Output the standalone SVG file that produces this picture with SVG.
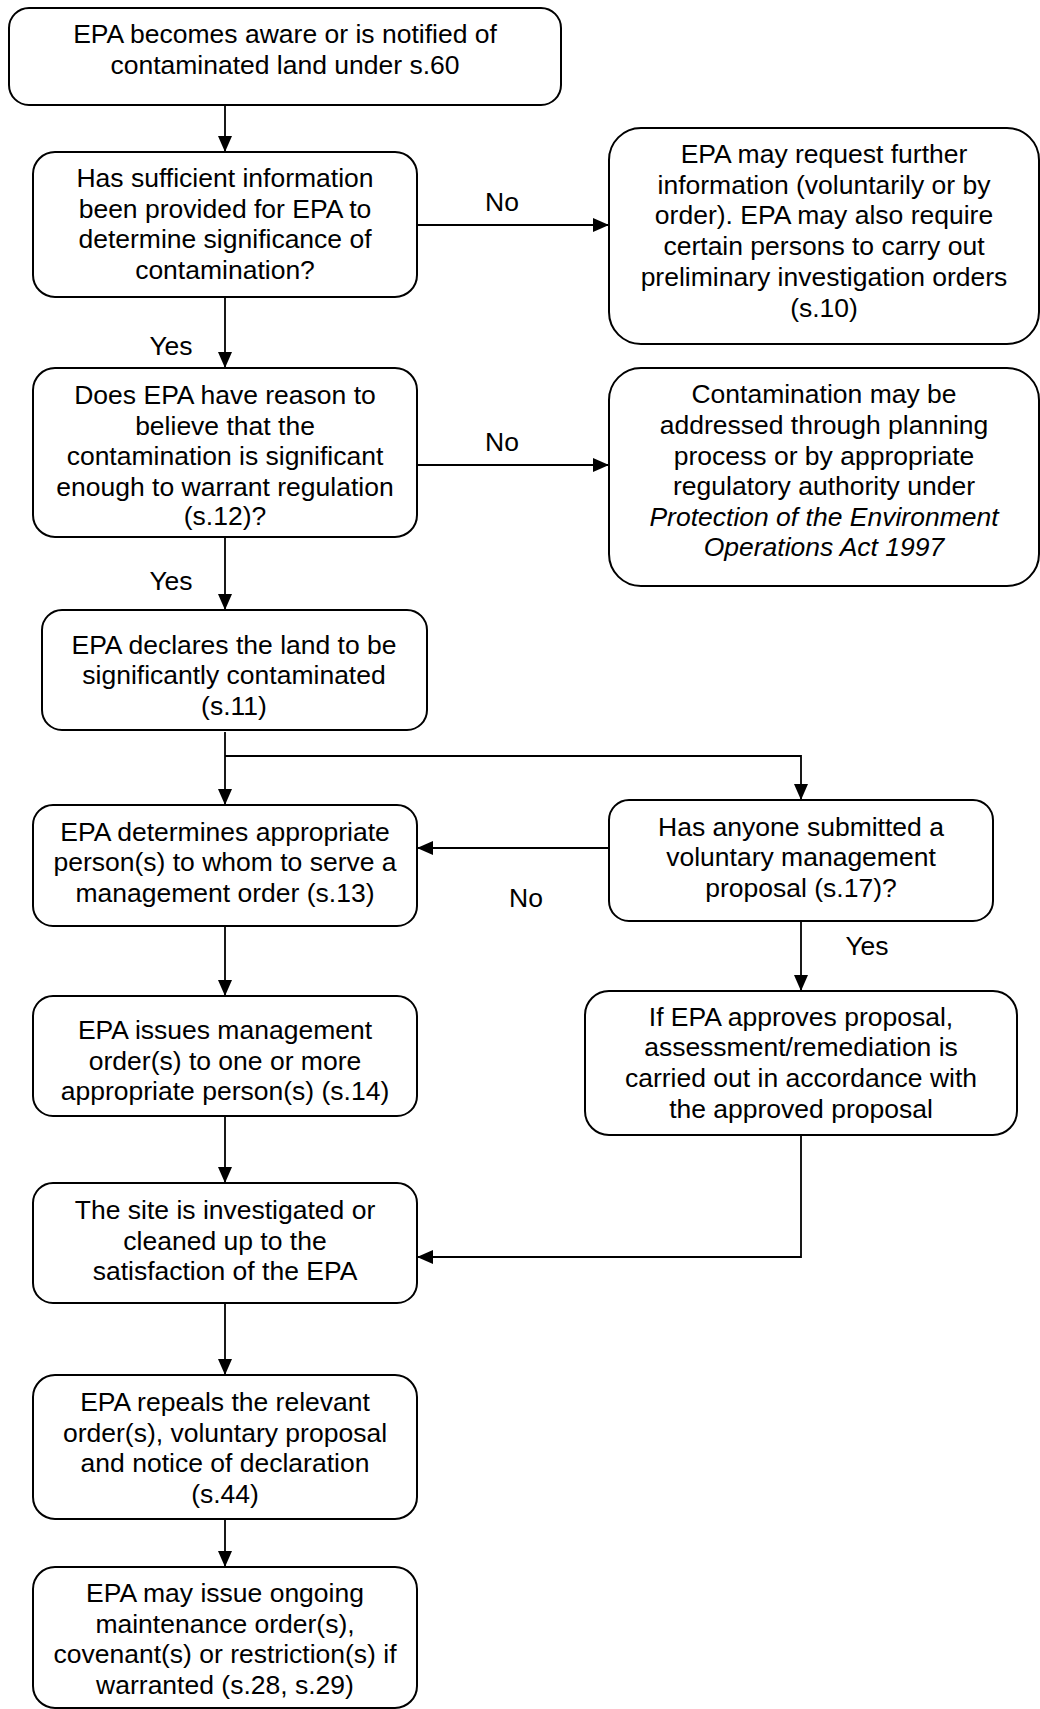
<svg xmlns="http://www.w3.org/2000/svg" width="1040" height="1709" viewBox="0 0 1040 1709">
<style>
.box{fill:#fff;stroke:#000;stroke-width:2}
.t{font-family:"Liberation Sans",Arial,sans-serif;font-size:26.5px;fill:#000;text-anchor:middle}
.c{fill:none;stroke:#000;stroke-width:1.8}
.i{font-style:italic}
</style>
<defs>
<marker id="ah" markerUnits="userSpaceOnUse" markerWidth="16" markerHeight="14" refX="16" refY="7" orient="auto">
<path d="M0,0 L16,7 L0,14 z" fill="#000"/>
</marker>
</defs>
<rect width="1040" height="1709" fill="#fff"/>
<g id="connectors">
<path class="c" d="M225,105 V152" marker-end="url(#ah)"/>
<path class="c" d="M225,297 V368" marker-end="url(#ah)"/>
<path class="c" d="M417,225 H609" marker-end="url(#ah)"/>
<path class="c" d="M417,465 H609" marker-end="url(#ah)"/>
<path class="c" d="M225,537 V610" marker-end="url(#ah)"/>
<path class="c" d="M225,732 V805" marker-end="url(#ah)"/>
<path class="c" d="M225,756 H801 V800" marker-end="url(#ah)"/>
<path class="c" d="M609,848 H417" marker-end="url(#ah)"/>
<path class="c" d="M801,921 V991" marker-end="url(#ah)"/>
<path class="c" d="M225,926 V996" marker-end="url(#ah)"/>
<path class="c" d="M225,1116 V1183" marker-end="url(#ah)"/>
<path class="c" d="M801,1135 V1257 H417" marker-end="url(#ah)"/>
<path class="c" d="M225,1303 V1375" marker-end="url(#ah)"/>
<path class="c" d="M225,1519 V1567" marker-end="url(#ah)"/>
<text class="t" x="502" y="211">No</text>
<text class="t" x="502" y="450.5">No</text>
<text class="t" x="171" y="354.5">Yes</text>
<text class="t" x="171" y="590">Yes</text>
<text class="t" x="526" y="907">No</text>
<text class="t" x="867" y="955">Yes</text>
</g>
<g id="n1">
<rect class="box" x="9" y="8" width="552" height="97" rx="20"/>
<text class="t" x="285" y="43">EPA becomes aware or is notified of</text>
<text class="t" x="285" y="73.5">contaminated land under s.60</text>
</g>
<g id="n2">
<rect class="box" x="33" y="152" width="384" height="145" rx="22"/>
<text class="t" x="225" y="187">Has sufficient information</text>
<text class="t" x="225" y="217.5">been provided for EPA to</text>
<text class="t" x="225" y="248">determine significance of</text>
<text class="t" x="225" y="278.5">contamination?</text>
</g>
<g id="n3">
<rect class="box" x="609" y="128" width="430" height="216" rx="32"/>
<text class="t" x="824" y="163">EPA may request further</text>
<text class="t" x="824" y="193.5">information (voluntarily or by</text>
<text class="t" x="824" y="224">order). EPA may also require</text>
<text class="t" x="824" y="254.5">certain persons to carry out</text>
<text class="t" x="824" y="285.5">preliminary investigation orders</text>
<text class="t" x="824" y="316.5">(s.10)</text>
</g>
<g id="n4">
<rect class="box" x="33" y="368" width="384" height="169" rx="22"/>
<text class="t" x="225" y="404">Does EPA have reason to</text>
<text class="t" x="225" y="434.5">believe that the</text>
<text class="t" x="225" y="465">contamination is significant</text>
<text class="t" x="225" y="495.5">enough to warrant regulation</text>
<text class="t" x="225" y="525">(s.12)?</text>
</g>
<g id="n5">
<rect class="box" x="609" y="368" width="430" height="218" rx="32"/>
<text class="t" x="824" y="403">Contamination may be</text>
<text class="t" x="824" y="434">addressed through planning</text>
<text class="t" x="824" y="464.5">process or by appropriate</text>
<text class="t" x="824" y="495">regulatory authority under</text>
<text class="t i" x="824" y="525.5">Protection of the Environment</text>
<text class="t i" x="824" y="556">Operations Act 1997</text>
</g>
<g id="n6">
<rect class="box" x="42" y="610" width="385" height="120" rx="20"/>
<text class="t" x="234" y="653.5">EPA declares the land to be</text>
<text class="t" x="234" y="684">significantly contaminated</text>
<text class="t" x="234" y="714.5">(s.11)</text>
</g>
<g id="n7">
<rect class="box" x="33" y="805" width="384" height="121" rx="20"/>
<text class="t" x="225" y="840.5">EPA determines appropriate</text>
<text class="t" x="225" y="871">person(s) to whom to serve a</text>
<text class="t" x="225" y="901.5">management order (s.13)</text>
</g>
<g id="n8">
<rect class="box" x="609" y="800" width="384" height="121" rx="20"/>
<text class="t" x="801" y="835.5">Has anyone submitted a</text>
<text class="t" x="801" y="866">voluntary management</text>
<text class="t" x="801" y="896.5">proposal (s.17)?</text>
</g>
<g id="n9">
<rect class="box" x="33" y="996" width="384" height="120" rx="20"/>
<text class="t" x="225" y="1039">EPA issues management</text>
<text class="t" x="225" y="1069.5">order(s) to one or more</text>
<text class="t" x="225" y="1100">appropriate person(s) (s.14)</text>
</g>
<g id="n10">
<rect class="box" x="585" y="991" width="432" height="144" rx="24"/>
<text class="t" x="801" y="1025.5">If EPA approves proposal,</text>
<text class="t" x="801" y="1056">assessment/remediation is</text>
<text class="t" x="801" y="1086.5">carried out in accordance with</text>
<text class="t" x="801" y="1117.5">the approved proposal</text>
</g>
<g id="n11">
<rect class="box" x="33" y="1183" width="384" height="120" rx="20"/>
<text class="t" x="225" y="1219">The site is investigated or</text>
<text class="t" x="225" y="1249.5">cleaned up to the</text>
<text class="t" x="225" y="1280">satisfaction of the EPA</text>
</g>
<g id="n12">
<rect class="box" x="33" y="1375" width="384" height="144" rx="22"/>
<text class="t" x="225" y="1411">EPA repeals the relevant</text>
<text class="t" x="225" y="1441.5">order(s), voluntary proposal</text>
<text class="t" x="225" y="1472">and notice of declaration</text>
<text class="t" x="225" y="1502.5">(s.44)</text>
</g>
<g id="n13">
<rect class="box" x="33" y="1567" width="384" height="141" rx="22"/>
<text class="t" x="225" y="1602">EPA may issue ongoing</text>
<text class="t" x="225" y="1632.5">maintenance order(s),</text>
<text class="t" x="225" y="1663">covenant(s) or restriction(s) if</text>
<text class="t" x="225" y="1694">warranted (s.28, s.29)</text>
</g>
</svg>
